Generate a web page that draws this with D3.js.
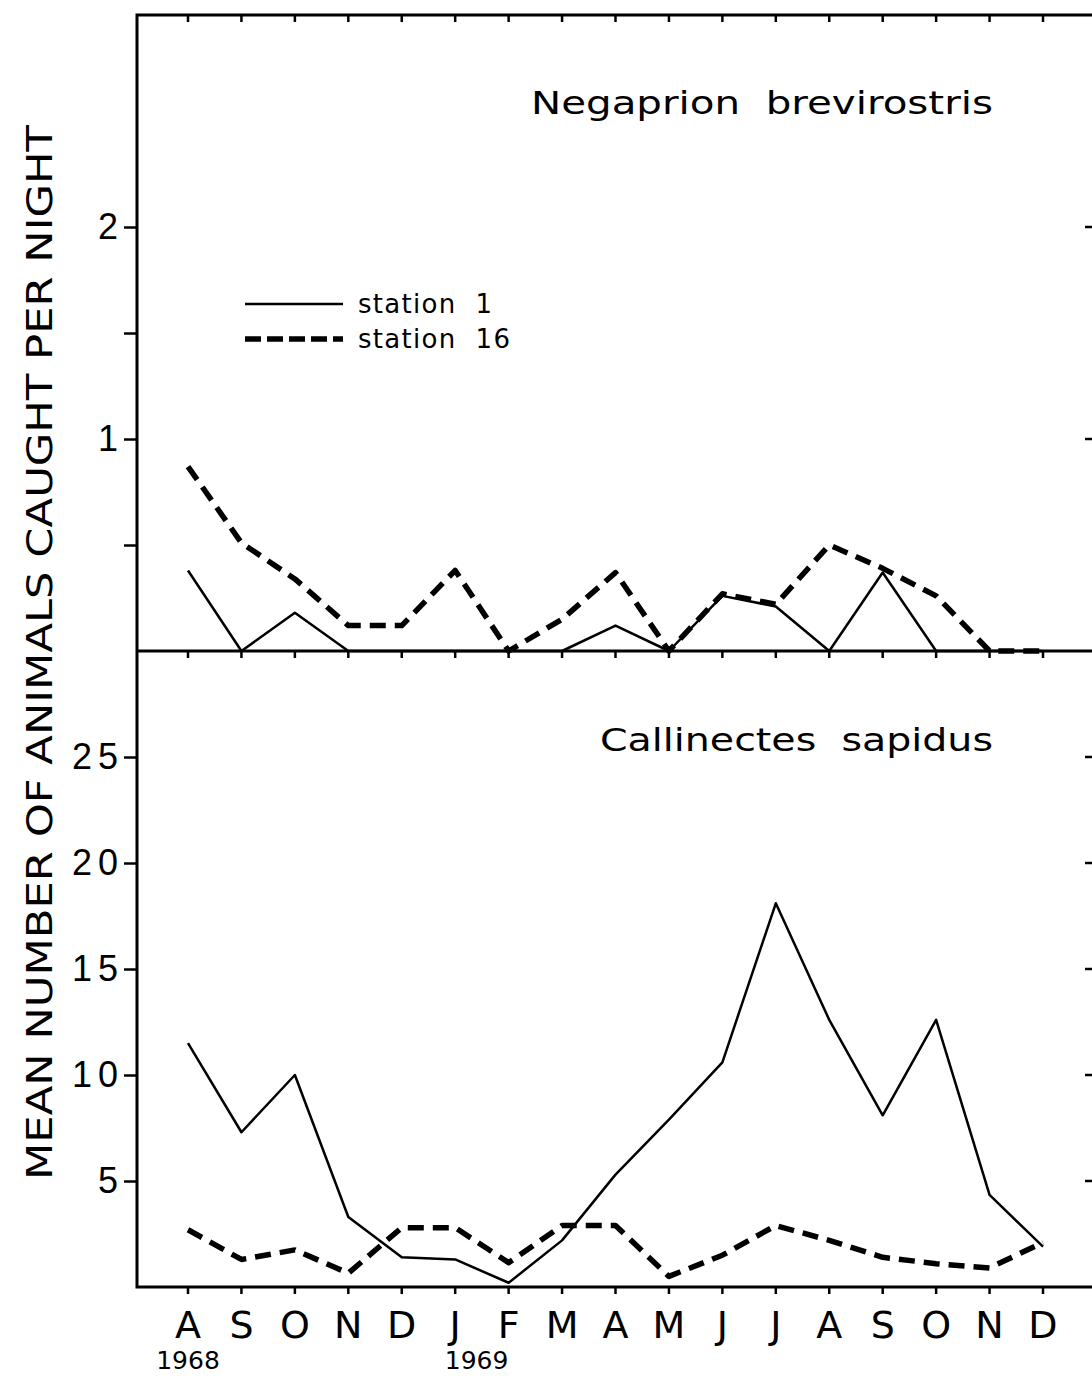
<!DOCTYPE html>
<html>
<head>
<meta charset="utf-8">
<script src="https://cdn.jsdelivr.net/npm/d3@7"></script>
<style>
  body { margin: 0; background: #fff; }
  text { white-space: pre; }
</style>
</head>
<body>
<script>
// months Aug 1968 .. Dec 1969
const months = ["A", "S", "O", "N", "D", "J", "F", "M", "A", "M", "J", "J", "A", "S", "O", "N", "D"];
const yearLabels = [{ i: 0, label: "1968" }, { i: 5.4, label: "1969" }];

// Negaprion brevirostris
const sharkStation1 = [0.38, 0, 0.18, 0, 0, 0, 0, 0, 0.12, 0, 0.26, 0.21, 0, 0.37, 0, 0, 0];
const sharkStation16 = [0.87, 0.51, 0.34, 0.12, 0.12, 0.38, 0, 0.15, 0.37, 0, 0.27, 0.22, 0.5, 0.39, 0.26, 0, 0];

// Callinectes sapidus
const crabStation1 = [11.5, 7.3, 10.0, 3.3, 1.4, 1.3, 0.2, 2.2, 5.3, 7.9, 10.6, 18.1, 12.6, 8.1, 12.6, 4.35, 1.9];
const crabStation16 = [2.7, 1.3, 1.75, 0.65, 2.8, 2.8, 1.15, 2.9, 2.9, 0.5, 1.5, 2.9, 2.2, 1.4, 1.1, 0.9, 2.1];

const sharkTicks = [1, 2];
const sharkMinor = [0.5, 1.5];
const crabTicks = [5, 10, 15, 20, 25];

const width = 1092, height = 1376;
const left = 137, right = 1097;
const topY = 15, midY = 651, bottomY = 1287;

const svg = d3.select("body").append("svg")
    .attr("width", width)
    .attr("height", height)
    .style("font-family", "'DejaVu Sans', sans-serif");

const x = d3.scaleLinear()
    .domain([0, months.length - 1])
    .range([188, 1043]);

const ySharks = d3.scaleLinear().domain([0, 3]).range([midY, topY]);
const yCrabs = d3.scaleLinear().domain([0, 30]).range([bottomY, midY]);

// frame
const frame = svg.append("g").attr("stroke", "#000").attr("stroke-width", 3).attr("fill", "none");
frame.append("rect")
    .attr("x", left).attr("y", topY)
    .attr("width", right - left).attr("height", bottomY - topY);
frame.append("line")
    .attr("x1", left).attr("x2", right)
    .attr("y1", midY).attr("y2", midY);

// month ticks on top, middle and bottom lines
const ticks = svg.append("g").attr("stroke", "#000").attr("stroke-width", 2.5);
[topY, midY, bottomY].forEach(yy => {
    ticks.selectAll(null)
        .data(months)
        .enter()
        .append("line")
        .attr("x1", (d, i) => x(i)).attr("x2", (d, i) => x(i))
        .attr("y1", yy).attr("y2", yy + 7);
});

// left axes (outward ticks), right side inward ticks
function yAxis(scale, values, fmt, size) {
    const g = svg.append("g")
        .attr("transform", `translate(${left},0)`)
        .call(d3.axisLeft(scale).tickValues(values).tickFormat(fmt).tickSize(size).tickPadding(0));
    g.select(".domain").remove();
    g.selectAll(".tick line").attr("stroke", "#000").attr("stroke-width", 2.5);
    g.selectAll(".tick text")
        .attr("fill", "#000")
        .attr("font-size", 36)
        .attr("x", -13)
        .style("letter-spacing", "6px");
    return g;
}
yAxis(ySharks, sharkTicks, d3.format("d"), 13);
yAxis(ySharks, sharkMinor, () => "", 13);
yAxis(yCrabs, crabTicks, d3.format("d"), 13);

const rightTicks = svg.append("g").attr("stroke", "#000").attr("stroke-width", 2.5);
[[ySharks, sharkTicks], [yCrabs, crabTicks]].forEach(([s, vals]) => {
    rightTicks.selectAll(null)
        .data(vals)
        .enter()
        .append("line")
        .attr("x1", right - 12).attr("x2", right)
        .attr("y1", d => s(d)).attr("y2", d => s(d));
});

// lines
function drawLine(values, scale, dashed) {
    const line = d3.line()
        .x((d, i) => x(i))
        .y(d => scale(d));
    svg.append("path")
        .datum(values)
        .attr("fill", "none")
        .attr("stroke", "#000")
        .attr("stroke-width", dashed ? 5.5 : 2.5)
        .attr("stroke-dasharray", dashed ? "16,9" : null)
        .attr("stroke-linejoin", "round")
        .attr("d", line);
}
drawLine(sharkStation1, ySharks, false);
drawLine(sharkStation16, ySharks, true);
drawLine(crabStation1, yCrabs, false);
drawLine(crabStation16, yCrabs, true);

// panel titles
svg.append("text")
    .attr("x", 993).attr("y", 114)
    .attr("text-anchor", "end")
    .attr("font-size", 32)
    .attr("textLength", 462)
    .attr("lengthAdjust", "spacingAndGlyphs")
    .text("Negaprion  brevirostris");
svg.append("text")
    .attr("x", 993).attr("y", 751)
    .attr("text-anchor", "end")
    .attr("font-size", 32)
    .attr("textLength", 393)
    .attr("lengthAdjust", "spacingAndGlyphs")
    .text("Callinectes  sapidus");

// legend
const legend = svg.append("g");
const legendItems = [{ label: "station  1", dashed: false, len: 134 }, { label: "station  16", dashed: true, len: 152 }];
legendItems.forEach((d, i) => {
    const yy = 304 + i * 35;
    legend.append("line")
        .attr("x1", 245).attr("x2", 343)
        .attr("y1", yy).attr("y2", yy)
        .attr("stroke", "#000")
        .attr("stroke-width", d.dashed ? 5.5 : 2.5)
        .attr("stroke-dasharray", d.dashed ? "16,6" : null);
    legend.append("text")
        .attr("x", 358).attr("y", yy + 9)
        .attr("font-size", 26)
        .attr("textLength", d.len)
        .attr("lengthAdjust", "spacing")
        .text(d.label);
});

// x labels
svg.append("g")
    .selectAll("text")
    .data(months)
    .enter()
    .append("text")
    .attr("x", (d, i) => x(i))
    .attr("y", 1338)
    .attr("text-anchor", "middle")
    .attr("font-size", 38)
    .text(d => d);

svg.append("g")
    .selectAll("text")
    .data(yearLabels)
    .enter()
    .append("text")
    .attr("x", d => x(d.i))
    .attr("y", 1369)
    .attr("text-anchor", "middle")
    .attr("font-size", 25)
    .text(d => d.label);

// y axis title
svg.append("text")
    .attr("transform", `translate(52,${(125 + 1180) / 2}) rotate(-90)`)
    .attr("text-anchor", "middle")
    .attr("font-size", 36)
    .attr("textLength", 1055)
    .attr("lengthAdjust", "spacingAndGlyphs")
    .text("MEAN NUMBER OF ANIMALS CAUGHT PER NIGHT");
</script>
</body>
</html>
